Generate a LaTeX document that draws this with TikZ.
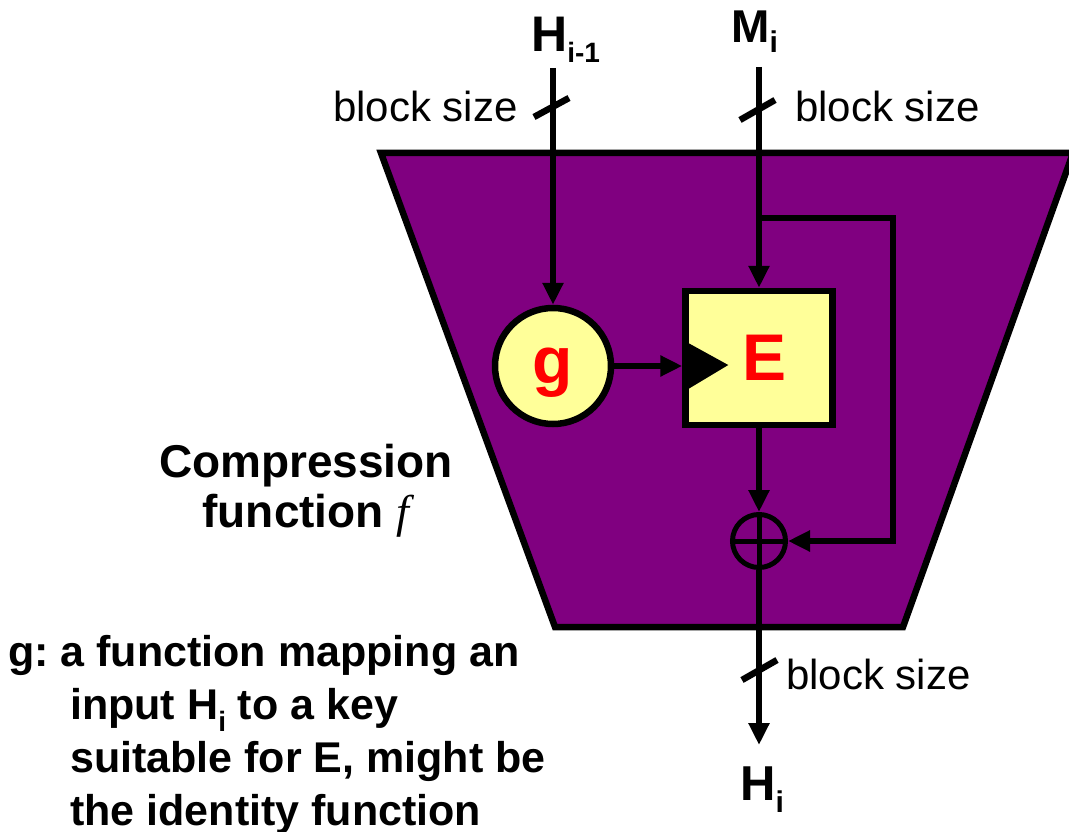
\documentclass[tikz,border=0pt]{standalone}
\usepackage{fontspec}
\setmainfont{Liberation Sans}
\newfontfamily\serifface{Liberation Serif}
\usetikzlibrary{arrows.meta,calc}
\definecolor{trap}{RGB}{128,0,128}
\definecolor{boxyellow}{RGB}{255,255,153}
\definecolor{labred}{RGB}{255,0,0}
\frenchspacing
\begin{document}
\begin{tikzpicture}[x=1pt,y=-1pt,
  wire/.style={line width=6.5pt},
  arr/.style={wire,-{Triangle[length=22pt,width=20pt]}},
  lab/.style={inner sep=0pt, anchor=base west},
  small/.style={font=\fontsize{42}{50}\selectfont},
  redlab/.style={text=labred, font=\bfseries\fontsize{66}{66}\selectfont},
  ybox/.style={draw, line width=6.5pt, fill=boxyellow, inner sep=0pt}]
\useasboundingbox (0,0) rectangle (1069,832);
\clip (0,0) rectangle (1069,832);
% compression trapezoid
\draw[line width=6.5pt, fill=trap, line join=miter] (381,153) -- (1073,153) -- (903,627) -- (555,627) -- cycle;
% labels
\node[lab, small] (bsl) at (333,122) {block size};
\node[lab, small] (bsr) at (795,122) {block size};
\node[lab, small] (bso) at (786,689) {block size};
\node[lab, font=\bfseries\fontsize{50}{50}\selectfont] (hin) at (531,52) {H\raisebox{-11pt}{\fontsize{28}{28}\selectfont i-1}};
\node[lab, font=\bfseries\fontsize{46}{46}\selectfont] (mlab) at (731,43) {M\raisebox{-10pt}{\fontsize{30}{30}\selectfont i}};
\node[lab, font=\bfseries\fontsize{49}{49}\selectfont] (hout) at (740,800) {H\raisebox{-12pt}{\fontsize{30}{30}\selectfont i}};
% blocks
\node[ybox, circle, minimum size=116pt, redlab, text depth=0pt] (g) at (553,366) {g};
\node[ybox, rectangle, minimum width=147pt, minimum height=134pt, redlab] (E) at (759,358) {\hspace{12pt}E};
\fill ($(E.west |- g)+(6,-23)$) -- ($(E.west |- g)+(6,23)$) -- ($(E.west |- g)+(46,-1)$) -- cycle;
\node[circle, draw, line width=5pt, minimum size=53pt, inner sep=0pt] (x) at (759,541) {};
\draw[line width=5pt] (x.north) -- (x.south) (x.west) -- (x.east);
% coordinates
\coordinate (hstart) at (553,68);
\coordinate (mstart) at (759,67);
\coordinate (br) at (759,218);
\coordinate (c1) at (893,218);
\coordinate (c2) at (893,541);
\coordinate (hend) at (759,745);
\coordinate (hs) at (553,108);
\coordinate (ms) at (759,110);
\coordinate (os) at (759,670);
% connectors
\draw[arr] (hstart) -- (g);
\draw[arr] (mstart) -- (E);
\draw[arr] (g) -- (E.west |- g);
\draw[arr] (E) -- (x);
\draw[arr, line join=miter] (br) -- (c1) -- (c2) -- (x);
\draw[arr] (x) -- (hend);
% block-size slashes
\draw[wire] ($(hs)+(-19,9)$) -- ($(hs)+(16,-10)$);
\draw[wire] ($(ms)+(-19,10)$) -- ($(ms)+(16,-10)$);
\draw[wire] ($(os)+(-17,10)$) -- ($(os)+(18,-10)$);
% texts
\node[align=center, anchor=base, font=\bfseries\fontsize{46}{50}\selectfont, inner sep=0pt] (comp) at (306,527) {Compression\\function {\serifface\itshape\mdseries f}};
\node[align=left, anchor=base west, inner sep=0pt, font=\bfseries\fontsize{43}{53}\selectfont] (note) at (8,825) {g: a function mapping an\\\hspace*{62pt}input H\raisebox{-12pt}{\fontsize{28}{28}\selectfont i} to a key\\\hspace*{62pt}suitable for E, might be\\\hspace*{62pt}the identity function};
\end{tikzpicture}
\end{document}
